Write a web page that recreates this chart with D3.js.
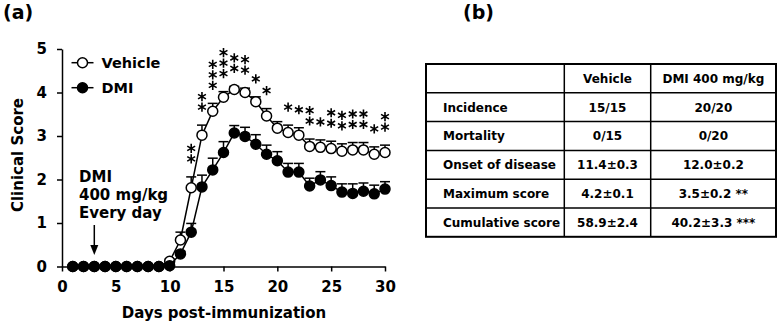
<!DOCTYPE html>
<html>
<head>
<meta charset="utf-8">
<script src="https://cdn.jsdelivr.net/npm/d3@7"></script>
<style>
  body { margin: 0; background: #fff; }
  svg text { font-family: "DejaVu Sans", Verdana, sans-serif; font-weight: bold; fill: #000; }
</style>
</head>
<body>
<svg id="chart" width="778" height="325"></svg>
<script>
// clinical score per day
const days = [1, 2, 3, 4, 5, 6, 7, 8, 9, 10, 11, 12, 13, 14, 15, 16, 17, 18, 19, 20, 21, 22, 23, 24, 25, 26, 27, 28, 29, 30]
const vehicle = [0, 0, 0, 0, 0, 0, 0, 0, 0, 0.12, 0.61, 1.81, 3.02, 3.57, 3.89, 4.07, 4.0, 3.79, 3.46, 3.18, 3.08, 3.02, 2.76, 2.74, 2.71, 2.65, 2.68, 2.68, 2.58, 2.62]
const vehicleSem = [0, 0, 0, 0, 0, 0, 0, 0, 0, 0.05, 0.18, 0.25, 0.23, 0.18, 0.13, 0.07, 0.1, 0.11, 0.17, 0.15, 0.17, 0.17, 0.17, 0.17, 0.17, 0.17, 0.17, 0.17, 0.17, 0.17]
const dmi = [0, 0, 0, 0, 0, 0, 0, 0, 0, 0.02, 0.29, 0.79, 1.83, 2.22, 2.62, 3.07, 2.99, 2.81, 2.58, 2.43, 2.17, 2.17, 1.85, 1.99, 1.86, 1.71, 1.68, 1.73, 1.67, 1.78]
const dmiSem = [0, 0, 0, 0, 0, 0, 0, 0, 0, 0.03, 0.06, 0.2, 0.27, 0.27, 0.25, 0.17, 0.21, 0.22, 0.21, 0.21, 0.2, 0.2, 0.18, 0.19, 0.2, 0.19, 0.22, 0.19, 0.2, 0.17]

// significance marks: number of asterisks per day
const starDays = [12, 13, 14, 15, 16, 17, 18, 19, 21, 22, 23, 24, 25, 26, 27, 28, 29, 30]
const starCounts = [2, 2, 3, 3, 2, 2, 1, 1, 1, 1, 2, 1, 2, 2, 2, 2, 1, 2]

// table (b)
const tableHeader = ["", "Vehicle", "DMI 400 mg/kg"]
const tableLabels = ["Incidence", "Mortality", "Onset of disease", "Maximum score", "Cumulative score"]
const vehicleStats = ["15/15", "0/15", "11.4±0.3", "4.2±0.1", "58.9±2.4"]
const dmiStats = ["20/20", "0/20", "12.0±0.2", "3.5±0.2 **", "40.2±3.3 ***"]

const svg = d3.select("#chart")

const x = d3.scaleLinear().domain([0, 30]).range([62, 385])
const y = d3.scaleLinear().domain([0, 5]).range([266.5, 49])

// panel labels
svg.append("text").attr("x", 3).attr("y", 19).style("font-size", "19px").text("(a)")
svg.append("text").attr("x", 463).attr("y", 19).style("font-size", "19px").text("(b)")

// axes
svg.append("g")
	.attr("transform", `translate(${x(0)},0)`)
	.call(d3.axisLeft(y).ticks(5).tickSize(5).tickSizeOuter(0).tickPadding(10))
svg.append("g")
	.attr("transform", `translate(0,${y(0)})`)
	.call(d3.axisBottom(x).ticks(6).tickSize(5).tickSizeOuter(0).tickPadding(10))
svg.selectAll(".tick text").style("font-size", "15px").attr("font-family", null)
svg.selectAll(".domain, .tick line").attr("stroke", "#000").attr("stroke-width", 1.5)

svg.append("text")
	.attr("transform", "translate(23,155) rotate(-90)")
	.attr("text-anchor", "middle")
	.style("font-size", "15px")
	.text("Clinical Score")
svg.append("text")
	.attr("x", 224).attr("y", 318)
	.attr("text-anchor", "middle")
	.style("font-size", "15px")
	.text("Days post-immunization")

// one series: line, upward error bars, markers
function drawSeries(vals, sems, fill) {
	const pts = days.map((d, i) => ({ day: d, v: vals[i], s: sems[i] }))
	const line = d3.line().x(d => x(d.day)).y(d => y(d.v))
	const g = svg.append("g")
	g.append("path")
		.attr("d", line(pts))
		.attr("fill", "none")
		.attr("stroke", "#000")
		.attr("stroke-width", 1.5)
	const err = g.selectAll(".err").data(pts.filter(d => d.s > 0)).enter().append("g")
	err.append("line")
		.attr("x1", d => x(d.day)).attr("x2", d => x(d.day))
		.attr("y1", d => y(d.v)).attr("y2", d => y(d.v + d.s))
		.attr("stroke", "#000").attr("stroke-width", 1.5)
	err.append("line")
		.attr("x1", d => x(d.day) - 5).attr("x2", d => x(d.day) + 5)
		.attr("y1", d => y(d.v + d.s)).attr("y2", d => y(d.v + d.s))
		.attr("stroke", "#000").attr("stroke-width", 1.5)
	g.selectAll("circle").data(pts).enter().append("circle")
		.attr("cx", d => x(d.day))
		.attr("cy", d => y(d.v))
		.attr("r", 5)
		.attr("fill", fill)
		.attr("stroke", "#000")
		.attr("stroke-width", 1.5)
}
drawSeries(vehicle, vehicleSem, "#fff")
drawSeries(dmi, dmiSem, "#000")

// asterisks stacked above the vehicle error bars
const star = d3.symbol().type(d3.symbolAsterisk).size(58)
starDays.forEach((d, i) => {
	const k = days.indexOf(d)
	const errTop = y(vehicle[k] + vehicleSem[k])
	for (let j = 0; j < starCounts[i]; j++) {
		svg.append("path")
			.attr("d", star())
			.attr("transform", `translate(${x(d)},${errTop - 18 - j * 10.5})`)
			.attr("fill", "none")
			.attr("stroke", "#000")
			.attr("stroke-width", 1.6)
	}
})

// legend
const legend = [["Vehicle", "#fff"], ["DMI", "#000"]]
legend.forEach((l, i) => {
	const ly = 62.7 + i * 25
	svg.append("line").attr("x1", 71.5).attr("x2", 93.5).attr("y1", ly).attr("y2", ly)
		.attr("stroke", "#000").attr("stroke-width", 1.5)
	svg.append("circle").attr("cx", 82.5).attr("cy", ly).attr("r", 5)
		.attr("fill", l[1]).attr("stroke", "#000").attr("stroke-width", 1.5)
	svg.append("text").attr("x", 101.5).attr("y", ly).attr("dy", "0.36em")
		.style("font-size", "14.5px").text(l[0])
})

// treatment annotation with arrow at day 3
const note = ["DMI", "400 mg/kg", "Every day"]
note.forEach((t, i) => {
	svg.append("text").attr("x", 79).attr("y", 182 + i * 18).style("font-size", "15px").text(t)
})
svg.append("line")
	.attr("x1", x(3)).attr("x2", x(3)).attr("y1", 225).attr("y2", 247)
	.attr("stroke", "#000").attr("stroke-width", 1.5)
svg.append("path")
	.attr("d", `M${x(3) - 4},245 L${x(3) + 4},245 L${x(3)},255 Z`)
	.attr("fill", "#000")

// table
const colX = [426, 564.3, 650.7, 776]
const tableTop = 64, rowH = 28.8
const rows = [tableHeader].concat(tableLabels.map((t, i) => [t, vehicleStats[i], dmiStats[i]]))
const tbl = svg.append("g")
tbl.append("rect")
	.attr("x", colX[0]).attr("y", tableTop)
	.attr("width", colX[3] - colX[0]).attr("height", rowH * rows.length)
	.attr("fill", "none").attr("stroke", "#000").attr("stroke-width", 2)
for (let i = 1; i < rows.length; i++) {
	tbl.append("line").attr("x1", colX[0]).attr("x2", colX[3])
		.attr("y1", tableTop + i * rowH).attr("y2", tableTop + i * rowH)
		.attr("stroke", "#000").attr("stroke-width", 1.5)
}
for (let c = 1; c < 3; c++) {
	tbl.append("line").attr("x1", colX[c]).attr("x2", colX[c])
		.attr("y1", tableTop).attr("y2", tableTop + rows.length * rowH)
		.attr("stroke", "#000").attr("stroke-width", 1.5)
}
rows.forEach((r, i) => {
	const cy = tableTop + i * rowH + rowH / 2
	r.forEach((cell, c) => {
		if (!cell) return
		tbl.append("text")
			.attr("x", c === 0 ? 443 : (colX[c] + colX[c + 1]) / 2)
			.attr("y", cy).attr("dy", "0.36em")
			.attr("text-anchor", c === 0 ? "start" : "middle")
			.style("font-size", "12px")
			.text(cell)
	})
})
</script>
</body>
</html>
